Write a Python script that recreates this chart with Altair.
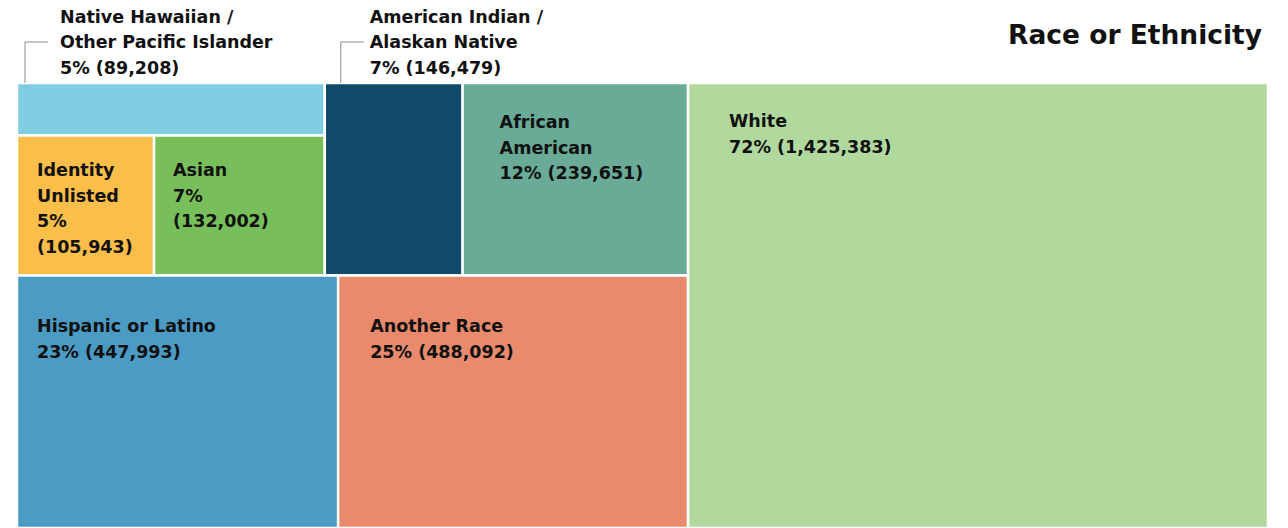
import altair as alt
import pandas as pd

# ---- data ----
names = ["Native Hawaiian /\nOther Pacific Islander", "Identity\nUnlisted", "Asian",
         "American Indian /\nAlaskan Native", "African\nAmerican", "Hispanic or Latino",
         "Another Race", "White"]
keys = ["NHPI", "IU", "Asian", "AmInd", "AfAm", "Hisp", "Another", "White"]
counts = [89208, 105943, 132002, 146479, 239651, 447993, 488092, 1425383]
pcts = [5, 5, 7, 7, 12, 23, 25, 72]
title_text = "Race or Ethnicity"

# treemap nesting (h = side by side, v = stacked)
layout = ("h", [
    ("v", [
        ("h", [
            ("v", ["NHPI", ("h", ["IU", "Asian"])]),
            "AmInd", "AfAm"]),
        ("h", ["Hisp", "Another"])]),
    "White"])

# ---- styles ----
W, H = 1251, 445
colors = {"NHPI": "#7fcde0", "IU": "#fbbe4b", "Asian": "#78bf5b", "AmInd": "#104a68",
          "AfAm": "#69ab97", "Hisp": "#4b9bc5", "Another": "#e98a6d", "White": "#b1d99e"}
# label offset (px) from cell top-left, whether pct/count split lines
lab = {"NHPI": (43, -60.5, False), "IU": (20, 40.5, True),
       "Asian": (19, 40.5, True), "AmInd": (45, -60.5, False),
       "AfAm": (37, 45, False), "Hisp": (20, 56.5, False),
       "Another": (32, 56.5, False), "White": (41, 44, False)}
leader = {"NHPI": 8, "AmInd": 16}

val = dict(zip(keys, counts))


def total(node):
    if isinstance(node, str):
        return val[node]
    return sum(total(c) for c in node[1])


rects = {}


def place(node, x0, y0, x1, y1):
    if isinstance(node, str):
        rects[node] = (x0, y0, x1, y1)
        return
    d, kids = node
    t = total(node)
    pos = x0 if d == "h" else y0
    for k in kids:
        f = total(k) / t
        if d == "h":
            nx = pos + (x1 - x0) * f
            place(k, pos, y0, nx, y1)
            pos = nx
        else:
            ny = pos + (y1 - y0) * f
            place(k, x0, pos, x1, ny)
            pos = ny


place(layout, 0.0, 0.0, 1.0, 1.0)

rows = []
for k, n, c, p in zip(keys, names, counts, pcts):
    x0, y0, x1, y1 = rects[k]
    dx, dy, split = lab[k]
    text = n + "\n" + f"{p}%" + ("\n" if split else " ") + f"({c:,})"
    rows.append(dict(key=k, x0=x0, y0=y0, x1=x1, y1=y1,
                     lx=x0 + dx / W, ly=y0 + dy / H, label=text))
df = pd.DataFrame(rows)

lead_rows = []
for k, off in leader.items():
    x0, y0, _, _ = rects[k]
    lx = x0 + off / W
    top = y0 - 41 / H
    lead_rows.append(dict(xa=lx, xb=lx, ya=y0, yb=top))
    lead_rows.append(dict(xa=lx, xb=lx + 23 / W, ya=top, yb=top))
ld = pd.DataFrame(lead_rows)

xs = alt.Scale(domain=[0, 1], range=[0, W])
ys = alt.Scale(domain=[0, 1], range=[0, H])

cells = alt.Chart(df).mark_rect(stroke="white", strokeWidth=2.5).encode(
    x=alt.X("x0:Q", scale=xs, axis=None),
    x2="x1:Q",
    y=alt.Y("y0:Q", scale=ys, axis=None),
    y2="y1:Q",
    color=alt.Color("key:N", scale=alt.Scale(domain=list(colors.keys()),
                                             range=list(colors.values())), legend=None),
)

labels = alt.Chart(df).mark_text(
    align="left", baseline="alphabetic", lineBreak="\n", lineHeight=25.7,
    font="DejaVu Sans", fontWeight="bold", fontSize=17.5, color="#111111"
).encode(
    x=alt.X("lx:Q", scale=xs),
    y=alt.Y("ly:Q", scale=ys),
    text="label:N",
)

leads = alt.Chart(ld).mark_rule(color="#8c8c8c", strokeWidth=1).encode(
    x=alt.X("xa:Q", scale=xs), x2="xb:Q",
    y=alt.Y("ya:Q", scale=ys), y2="yb:Q",
)

title = alt.Chart(pd.DataFrame({"t": [title_text]})).mark_text(
    align="right", baseline="alphabetic", font="DejaVu Sans", fontWeight="bold",
    fontSize=26.5, color="#111111"
).encode(x=alt.value(W - 6), y=alt.value(-39), text="t:N")

chart = alt.layer(cells, leads, labels, title).properties(
    width=W, height=H,
    autosize=alt.AutoSizeParams(type="none"),
    padding={"left": 9, "top": 75, "right": 4, "bottom": 0},
).configure_view(stroke=None).configure(background="white")

chart.save("out.html", embed_options={"renderer": "svg", "actions": False})
